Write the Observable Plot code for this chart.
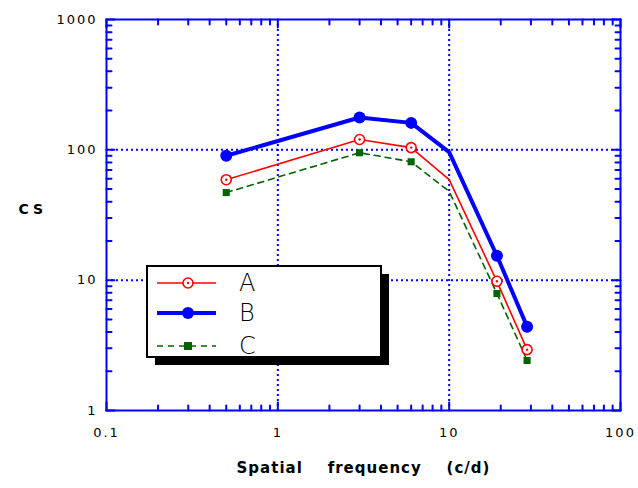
<!DOCTYPE html>
<html><head><meta charset="utf-8">
<script src="https://cdn.jsdelivr.net/npm/d3@7"></script>
<script src="https://cdn.jsdelivr.net/npm/@observablehq/plot@0.6"></script>
<style>
body{margin:0;background:#fff}
#chart{position:relative;width:638px;height:488px}
#chart svg{position:absolute;left:0;top:0}
#chart [aria-label="x-axis tick label"] text,
#chart [aria-label="y-axis tick label"] text{letter-spacing:2px}
</style>
</head><body><div id="chart"></div>
<script>
// ---- data ----
// line vertices (the curve bends at 10 c/d, where no marker is drawn)
const freq = [0.5, 3, 6, 10, 19, 28.5];
const marked = [true, true, true, false, true, true];
const seriesA = [59, 120, 104, 59, 9.8, 2.93];
const seriesB = [90, 177, 161, 96, 15.4, 4.4];
const seriesC = [47, 95, 81, 48, 7.9, 2.42];
const seriesNames = ["A", "B", "C"];
const xTicks = [0.1, 1, 10, 100];
const xTickLabels = ["0.1", "1", "10", "100"];
const yTicks = [1, 10, 100, 1000];
const yTickLabels = ["1", "10", "100", "1000"];
const xTitle = "Spatial    frequency    (c/d)";
const yTitle = "CS";

// ---- build ----
const blue = "#0000ff";
const red = "#ff0000";
const green = "#006400";
const rows = (vals, name) => freq.map((f, i) => ({f, v: vals[i], s: name, m: marked[i]}));
const A = rows(seriesA, seriesNames[0]);
const B = rows(seriesB, seriesNames[1]);
const C = rows(seriesC, seriesNames[2]);
const mk = arr => arr.filter(d => d.m);
const minorX = xTicks.slice(0, -1).flatMap(d => d3.range(2, 10).map(k => k * d));
const minorY = yTicks.slice(0, -1).flatMap(d => d3.range(2, 10).map(k => k * d));
const xLab = new Map(xTicks.map((d, i) => [d, xTickLabels[i]]));
const yLab = new Map(yTicks.map((d, i) => [d, yTickLabels[i]]));
const mn = 5, mj = 8;
const tickShape = {draw(ctx, l) { ctx.moveTo(0, 0); ctx.lineTo(0, -l); }};
const tickV = (data, ch, side, len) => Plot.vector(data, {
  [ch]: d => d, frameAnchor: side, length: len, anchor: "start", shape: tickShape,
  rotate: {bottom: 0, top: 180, left: 90, right: -90}[side],
  stroke: blue, strokeWidth: 2
});

const plot = Plot.plot({
  width: 638, height: 488,
  marginLeft: 106, marginRight: 18, marginTop: 19, marginBottom: 78,
  x: {type: "log", domain: [0.1, 100]},
  y: {type: "log", domain: [1, 1000]},
  style: {fontFamily: "DejaVu Sans", fontSize: "13px", color: "#000", background: "#fff", overflow: "visible"},
  marks: [
    Plot.gridX(xTicks.slice(1, -1), {stroke: blue, strokeOpacity: 1, strokeWidth: 2, strokeDasharray: "2,3"}),
    Plot.gridY(yTicks.slice(1, -1), {stroke: blue, strokeOpacity: 1, strokeWidth: 2, strokeDasharray: "2,3"}),
    tickV(minorX, "x", "bottom", mn), tickV(minorX, "x", "top", mn),
    tickV(minorY, "y", "left", mn), tickV(minorY, "y", "right", mn),
    tickV(xTicks, "x", "bottom", mj), tickV(xTicks, "x", "top", mj),
    tickV(yTicks, "y", "left", mj), tickV(yTicks, "y", "right", mj),
    Plot.axisX(xTicks, {anchor: "bottom", tickSize: 0, tickPadding: 17, tickFormat: d => xLab.get(d), label: null}),
    Plot.axisY(yTicks, {anchor: "left", tickSize: 0, tickPadding: 9, tickFormat: d => yLab.get(d), label: null}),
    Plot.frame({stroke: blue, strokeWidth: 2}),
    Plot.line(C, {x: "f", y: "v", stroke: green, strokeWidth: 1.6, strokeDasharray: "6,5"}),
    Plot.line(A, {x: "f", y: "v", stroke: red, strokeWidth: 1.6}),
    Plot.line(B, {x: "f", y: "v", stroke: blue, strokeWidth: 4, strokeLinejoin: "round"}),
    Plot.dot(mk(C), {x: "f", y: "v", symbol: "square", r: 4, fill: green, stroke: "none"}),
    Plot.dot(mk(A), {x: "f", y: "v", symbol: "circle", r: 5, fill: "#fff", stroke: red, strokeWidth: 1.6}),
    Plot.dot(mk(A), {x: "f", y: "v", symbol: "circle", r: 1.2, fill: red, stroke: "none"}),
    Plot.dot(mk(B), {x: "f", y: "v", symbol: "circle", r: 6, fill: blue, stroke: "none"}),
    Plot.text([xTitle], {frameAnchor: "bottom", dy: 62, fontSize: 15, fontWeight: "bold", fill: "#000"}),
    Plot.text([yTitle], {frameAnchor: "left", dx: -88, dy: -5, fontSize: 14, fontWeight: "bold", fill: "#000"})
  ]
});
const chart = document.getElementById("chart");
chart.appendChild(plot);
d3.select(plot).selectAll("text").filter(function() { return this.textContent === xTitle; }).style("letter-spacing", "1px");
d3.select(plot).selectAll("text").filter(function() { return this.textContent === yTitle; }).style("letter-spacing", "4px");

// ---- legend overlay ----
const lg = d3.select(chart).append("svg").attr("width", 638).attr("height", 488);
const bx = 147, by = 266, bw = 234, bh = 91;
lg.append("rect").attr("x", bx + 8).attr("y", by + 8).attr("width", bw).attr("height", bh).attr("fill", "#000");
lg.append("rect").attr("x", bx).attr("y", by).attr("width", bw).attr("height", bh).attr("fill", "#fff").attr("stroke", "#000").attr("stroke-width", 2);
const items = [
  {name: seriesNames[0], color: red, w: 1.6, dash: null, y: 283},
  {name: seriesNames[1], color: blue, w: 4, dash: null, y: 313},
  {name: seriesNames[2], color: green, w: 1.6, dash: "6,5", y: 346}
];
items.forEach((it, i) => {
  lg.append("line").attr("x1", 157).attr("x2", 216).attr("y1", it.y).attr("y2", it.y)
    .attr("stroke", it.color).attr("stroke-width", it.w).attr("stroke-dasharray", it.dash);
  if (i === 0) {
    lg.append("circle").attr("cx", 188).attr("cy", it.y).attr("r", 5).attr("fill", "#fff").attr("stroke", red).attr("stroke-width", 1.6);
    lg.append("circle").attr("cx", 188).attr("cy", it.y).attr("r", 1.2).attr("fill", red);
  } else if (i === 1) {
    lg.append("circle").attr("cx", 188).attr("cy", it.y).attr("r", 6).attr("fill", blue);
  } else {
    lg.append("rect").attr("x", 184).attr("y", it.y - 4).attr("width", 8).attr("height", 8).attr("fill", green);
  }
  lg.append("text").attr("x", 239).attr("y", it.y + 1).attr("dominant-baseline", "middle")
    .attr("font-family", "DejaVu Sans").attr("font-size", 24).attr("font-weight", 300).text(it.name);
});
</script>
</body></html>
